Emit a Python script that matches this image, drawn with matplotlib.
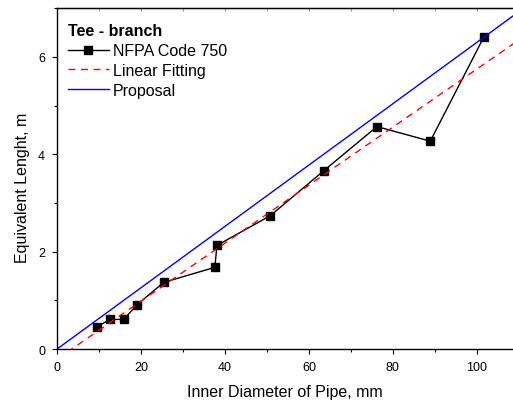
import numpy as np
import matplotlib
matplotlib.use("Agg")
import matplotlib.pyplot as plt
from matplotlib.ticker import MultipleLocator

plt.rcParams['font.family'] = ['Liberation Sans', 'DejaVu Sans']

# NFPA data (inner diameter in mm, equivalent length in m)
diam = [9.5, 12.7, 15.9, 19.05, 25.4, 37.6, 38.1, 50.8, 63.5, 76.2, 88.9, 101.6]
eq_len = [0.46, 0.61, 0.61, 0.91, 1.37, 1.68, 2.13, 2.74, 3.66, 4.57, 4.27, 6.40]

# line parameters
fit_slope, fit_icpt = 0.0596, -0.208
prop_slope = 0.063

x_line = np.array([0, 110])

fig = plt.figure(figsize=(5.13, 4.02), dpi=100)
ax = fig.add_axes([0.111, 0.129, 0.889, 0.848])

ax.plot(diam, eq_len, color='black', lw=1.0, marker='s', ms=5.5,
        label='NFPA Code 750')
ax.plot(x_line, fit_slope * x_line + fit_icpt, color='red', lw=1.0,
        ls=(0, (5, 4)), label='Linear Fitting')
ax.plot(x_line, prop_slope * x_line, color='blue', lw=1.0, label='Proposal')

ax.set_xlim(0, 108.6)
ax.set_ylim(0, 7)
ax.xaxis.set_major_locator(MultipleLocator(20))
ax.xaxis.set_minor_locator(MultipleLocator(10))
ax.yaxis.set_major_locator(MultipleLocator(2))
ax.yaxis.set_minor_locator(MultipleLocator(1))
ax.tick_params(which='both', direction='out', labelsize=9, width=0.8, pad=5)
ax.tick_params(which='major', length=3.5)
ax.tick_params(which='minor', length=2.5)
for sp in ['left', 'bottom', 'top']:
    ax.spines[sp].set_linewidth(1.0)
ax.spines['right'].set_visible(False)

# top axis: small inward ticks, no labels
top = ax.secondary_xaxis('top')
top.xaxis.set_major_locator(MultipleLocator(10))
top.tick_params(direction='in', length=2, width=0.6, labeltop=False, color='0.5')

ax.set_xlabel('Inner Diameter of Pipe, mm', fontsize=11.5, labelpad=8)
ax.set_ylabel('Equivalent Lenght, m', fontsize=11.5, labelpad=6)
ax.yaxis.label.set_y(0.476)

leg = ax.legend(title='Tee - branch', loc='upper left', frameon=False,
                fontsize=11.5, handlelength=2.6, borderaxespad=0,
                bbox_to_anchor=(0.02, 0.96),
                handletextpad=0.25, labelspacing=0.3, borderpad=0.1,
                title_fontproperties={'weight': 'bold', 'size': 11.5})
leg._legend_box.align = 'left'

fig.savefig('out.png', dpi=100)
